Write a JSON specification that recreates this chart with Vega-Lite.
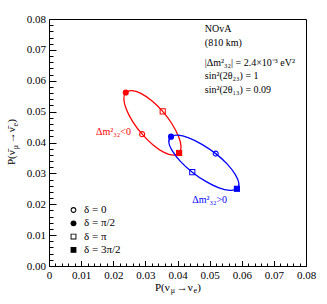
{
  "$schema": "https://vega.github.io/schema/vega-lite/v6.json",
  "width": 257,
  "height": 247,
  "autosize": "none",
  "padding": {"left": 49, "top": 19, "right": 21, "bottom": 38},
  "background": "white",
  "config": {
    "view": {"stroke": "black", "strokeWidth": 1},
    "font": "Liberation Serif",
    "text": {"font": "Liberation Serif", "fontSize": 11},
    "axis": {"labelFont": "Liberation Serif", "labelFontSize": 11, "labelColor": "black", "tickColor": "black", "grid": false, "domain": false, "labelFlush": false, "labelOverlap": false, "tickWidth": 1}
  },
  "datasets": {
    "ellipse": [
      {"series": "IH", "k": 0, "x": 0.0290, "y": 0.0427},
      {"series": "IH", "k": 1, "x": 0.0261, "y": 0.0467},
      {"series": "IH", "k": 2, "x": 0.0241, "y": 0.0507},
      {"series": "IH", "k": 3, "x": 0.0233, "y": 0.0540},
      {"series": "IH", "k": 4, "x": 0.0239, "y": 0.0562},
      {"series": "IH", "k": 5, "x": 0.0258, "y": 0.0568},
      {"series": "IH", "k": 6, "x": 0.0286, "y": 0.0559},
      {"series": "IH", "k": 7, "x": 0.0320, "y": 0.0535},
      {"series": "IH", "k": 8, "x": 0.0354, "y": 0.0501},
      {"series": "IH", "k": 9, "x": 0.0383, "y": 0.0460},
      {"series": "IH", "k": 10, "x": 0.0403, "y": 0.0420},
      {"series": "IH", "k": 11, "x": 0.0411, "y": 0.0387},
      {"series": "IH", "k": 12, "x": 0.0405, "y": 0.0366},
      {"series": "IH", "k": 13, "x": 0.0386, "y": 0.0359},
      {"series": "IH", "k": 14, "x": 0.0358, "y": 0.0368},
      {"series": "IH", "k": 15, "x": 0.0324, "y": 0.0392},
      {"series": "NH", "k": 0, "x": 0.0519, "y": 0.0364},
      {"series": "NH", "k": 1, "x": 0.0476, "y": 0.0394},
      {"series": "NH", "k": 2, "x": 0.0435, "y": 0.0415},
      {"series": "NH", "k": 3, "x": 0.0401, "y": 0.0424},
      {"series": "NH", "k": 4, "x": 0.0380, "y": 0.0419},
      {"series": "NH", "k": 5, "x": 0.0373, "y": 0.0401},
      {"series": "NH", "k": 6, "x": 0.0384, "y": 0.0373},
      {"series": "NH", "k": 7, "x": 0.0409, "y": 0.0339},
      {"series": "NH", "k": 8, "x": 0.0446, "y": 0.0304},
      {"series": "NH", "k": 9, "x": 0.0488, "y": 0.0274},
      {"series": "NH", "k": 10, "x": 0.0529, "y": 0.0253},
      {"series": "NH", "k": 11, "x": 0.0563, "y": 0.0245},
      {"series": "NH", "k": 12, "x": 0.0585, "y": 0.0250},
      {"series": "NH", "k": 13, "x": 0.0591, "y": 0.0268},
      {"series": "NH", "k": 14, "x": 0.0580, "y": 0.0296},
      {"series": "NH", "k": 15, "x": 0.0555, "y": 0.0330}
    ],
    "points": [
      {"series": "IH", "delta": "δ = 0", "x": 0.0290, "y": 0.0427},
      {"series": "IH", "delta": "δ = π/2", "x": 0.0239, "y": 0.0562},
      {"series": "IH", "delta": "δ = π", "x": 0.0354, "y": 0.0501},
      {"series": "IH", "delta": "δ = 3π/2", "x": 0.0405, "y": 0.0366},
      {"series": "NH", "delta": "δ = 0", "x": 0.0519, "y": 0.0364},
      {"series": "NH", "delta": "δ = π/2", "x": 0.0380, "y": 0.0419},
      {"series": "NH", "delta": "δ = π", "x": 0.0446, "y": 0.0304},
      {"series": "NH", "delta": "δ = 3π/2", "x": 0.0585, "y": 0.0250}
    ],
    "notes": [
      {"group": "info", "x": 0.0485, "y": 0.0767, "text": "NOvA"},
      {"group": "info", "x": 0.0485, "y": 0.0723, "text": "(810 km)"},
      {"group": "info", "x": 0.0485, "y": 0.0658, "text": "|Δm²₃₂| = 2.4×10⁻³ eV²"},
      {"group": "info", "x": 0.0485, "y": 0.0614, "text": "sin²(2θ₂₃) = 1"},
      {"group": "info", "x": 0.0485, "y": 0.0570, "text": "sin²(2θ₁₃) = 0.09"},
      {"group": "NH", "x": 0.0446, "y": 0.0214, "text": "Δm²₃₂>0"}
    ],
    "notesRight": [
      {"group": "IH", "x": 0.0255, "y": 0.0433, "text": "Δm²₃₂<0"}
    ]
  },
  "resolve": {"axis": {"x": "independent", "y": "independent"}},
  "layer": [
    {
      "data": {"name": "ellipse"},
      "mark": {"type": "line", "interpolate": "cardinal-closed", "strokeWidth": 1.3},
      "encoding": {
        "x": {"field": "x", "type": "quantitative", "scale": {"domain": [0, 0.08], "nice": false, "zero": false},
              "axis": {"orient": "bottom", "title": null, "values": [0, 0.01, 0.02, 0.03, 0.04, 0.05, 0.06, 0.07, 0.08], "labelExpr": "datum.value == 0 ? '0' : format(datum.value, '.2f')", "tickSize": -5.5, "labelPadding": 9}},
        "y": {"field": "y", "type": "quantitative", "scale": {"domain": [0, 0.08], "nice": false, "zero": false},
              "axis": {"orient": "left", "title": null, "values": [0, 0.01, 0.02, 0.03, 0.04, 0.05, 0.06, 0.07, 0.08], "format": ".2f", "tickSize": -7, "labelPadding": 10.5}},
        "color": {"field": "series", "type": "nominal", "scale": {"domain": ["IH", "NH", "info"], "range": ["#ff0000", "#0000ff", "#000000"]}, "legend": null},
        "order": {"field": "k", "type": "quantitative"}
      }
    },
    {
      "data": {"name": "points"},
      "mark": {"type": "point", "filled": true, "size": 38, "opacity": 1},
      "encoding": {
        "x": {"field": "x", "type": "quantitative", "scale": {"domain": [0, 0.08], "nice": false, "zero": false},
              "axis": {"orient": "bottom", "title": null, "labels": false, "tickSize": -3, "values": [0.002,0.004,0.006,0.008,0.012,0.014,0.016,0.018,0.022,0.024,0.026,0.028,0.032,0.034,0.036,0.038,0.042,0.044,0.046,0.048,0.052,0.054,0.056,0.058,0.062,0.064,0.066,0.068,0.072,0.074,0.076,0.078]}},
        "y": {"field": "y", "type": "quantitative", "scale": {"domain": [0, 0.08], "nice": false, "zero": false},
              "axis": {"orient": "left", "title": null, "labels": false, "tickSize": -4, "values": [0.002,0.004,0.006,0.008,0.012,0.014,0.016,0.018,0.022,0.024,0.026,0.028,0.032,0.034,0.036,0.038,0.042,0.044,0.046,0.048,0.052,0.054,0.056,0.058,0.062,0.064,0.066,0.068,0.072,0.074,0.076,0.078]}},
        "color": {"field": "series", "type": "nominal", "scale": {"domain": ["IH", "NH", "info"], "range": ["#ff0000", "#0000ff", "#000000"]}, "legend": null},
        "shape": {"field": "delta", "type": "nominal",
                  "scale": {"domain": ["δ = 0", "δ = π/2", "δ = π", "δ = 3π/2"],
                            "range": ["M1,0A1,1,0,1,1,-1,0A1,1,0,1,1,1,0Z M0.64,0A0.64,0.64,0,1,0,-0.64,0A0.64,0.64,0,1,0,0.64,0Z", "circle", "M-1,-1H1V1H-1Z M-0.68,-0.68V0.68H0.68V-0.68Z", "square"]},
                  "legend": {"orient": "none", "legendX": 19, "legendY": 185.5, "title": null, "padding": 0, "symbolSize": 34, "symbolFillColor": "black", "symbolStrokeWidth": 0, "symbolStrokeColor": "transparent", "labelFont": "Liberation Serif", "labelFontSize": 11, "labelColor": "black", "labelOffset": 5, "rowPadding": 1.3}}
      }
    },
    {
      "data": {"name": "notes"},
      "mark": {"type": "text", "align": "left", "baseline": "middle", "fontSize": 10},
      "encoding": {
        "x": {"field": "x", "type": "quantitative", "scale": {"domain": [0, 0.08], "nice": false, "zero": false}, "axis": null},
        "y": {"field": "y", "type": "quantitative", "scale": {"domain": [0, 0.08], "nice": false, "zero": false}, "axis": null},
        "color": {"field": "group", "type": "nominal", "scale": {"domain": ["IH", "NH", "info"], "range": ["#ff0000", "#0000ff", "#000000"]}, "legend": null},
        "text": {"field": "text", "type": "nominal"}
      }
    },
    {
      "data": {"name": "notesRight"},
      "mark": {"type": "text", "align": "right", "baseline": "middle", "fontSize": 10},
      "encoding": {
        "x": {"field": "x", "type": "quantitative", "scale": {"domain": [0, 0.08], "nice": false, "zero": false}, "axis": null},
        "y": {"field": "y", "type": "quantitative", "scale": {"domain": [0, 0.08], "nice": false, "zero": false}, "axis": null},
        "color": {"field": "group", "type": "nominal", "scale": {"domain": ["IH", "NH", "info"], "range": ["#ff0000", "#0000ff", "#000000"]}, "legend": null},
        "text": {"field": "text", "type": "nominal"}
      }
    },
    {
      "data": {"values": [{}]},
      "mark": {"type": "text", "text": "P(ν", "align": "left", "baseline": "alphabetic", "fontSize": 11, "color": "black", "dx": -22.5, "dy": 24.5},
      "encoding": {"x": {"datum": 0.04, "type": "quantitative", "scale": {"domain": [0, 0.08], "nice": false, "zero": false}, "axis": null}, "y": {"datum": 0, "type": "quantitative", "scale": {"domain": [0, 0.08], "nice": false, "zero": false}, "axis": null}}
    },
    {
      "data": {"values": [{}]},
      "mark": {"type": "text", "text": "μ", "align": "left", "baseline": "alphabetic", "fontSize": 8, "color": "black", "dx": -6.8, "dy": 27},
      "encoding": {"x": {"datum": 0.04, "type": "quantitative", "scale": {"domain": [0, 0.08], "nice": false, "zero": false}, "axis": null}, "y": {"datum": 0, "type": "quantitative", "scale": {"domain": [0, 0.08], "nice": false, "zero": false}, "axis": null}}
    },
    {
      "data": {"values": [{}]},
      "mark": {"type": "text", "text": "→ν", "align": "right", "baseline": "alphabetic", "fontSize": 11, "color": "black", "dx": 15.3, "dy": 24.5},
      "encoding": {"x": {"datum": 0.04, "type": "quantitative", "scale": {"domain": [0, 0.08], "nice": false, "zero": false}, "axis": null}, "y": {"datum": 0, "type": "quantitative", "scale": {"domain": [0, 0.08], "nice": false, "zero": false}, "axis": null}}
    },
    {
      "data": {"values": [{}]},
      "mark": {"type": "text", "text": "e", "align": "right", "baseline": "alphabetic", "fontSize": 8, "color": "black", "dx": 19.6, "dy": 27},
      "encoding": {"x": {"datum": 0.04, "type": "quantitative", "scale": {"domain": [0, 0.08], "nice": false, "zero": false}, "axis": null}, "y": {"datum": 0, "type": "quantitative", "scale": {"domain": [0, 0.08], "nice": false, "zero": false}, "axis": null}}
    },
    {
      "data": {"values": [{}]},
      "mark": {"type": "text", "text": ")", "align": "right", "baseline": "alphabetic", "fontSize": 11, "color": "black", "dx": 23.4, "dy": 24.5},
      "encoding": {"x": {"datum": 0.04, "type": "quantitative", "scale": {"domain": [0, 0.08], "nice": false, "zero": false}, "axis": null}, "y": {"datum": 0, "type": "quantitative", "scale": {"domain": [0, 0.08], "nice": false, "zero": false}, "axis": null}}
    },
    {
      "data": {"values": [{}]},
      "mark": {"type": "text", "text": "P(ν̄", "angle": 270, "align": "left", "baseline": "alphabetic", "fontSize": 11, "color": "black", "dx": -22.5, "dy": -34},
      "encoding": {"x": {"datum": 0, "type": "quantitative", "scale": {"domain": [0, 0.08], "nice": false, "zero": false}, "axis": null}, "y": {"datum": 0.04, "type": "quantitative", "scale": {"domain": [0, 0.08], "nice": false, "zero": false}, "axis": null}}
    },
    {
      "data": {"values": [{}]},
      "mark": {"type": "text", "text": "μ", "angle": 270, "align": "left", "baseline": "alphabetic", "fontSize": 8, "color": "black", "dx": -6.8, "dy": -31.5},
      "encoding": {"x": {"datum": 0, "type": "quantitative", "scale": {"domain": [0, 0.08], "nice": false, "zero": false}, "axis": null}, "y": {"datum": 0.04, "type": "quantitative", "scale": {"domain": [0, 0.08], "nice": false, "zero": false}, "axis": null}}
    },
    {
      "data": {"values": [{}]},
      "mark": {"type": "text", "text": "→ν̄", "angle": 270, "align": "right", "baseline": "alphabetic", "fontSize": 11, "color": "black", "dx": 15.3, "dy": -34},
      "encoding": {"x": {"datum": 0, "type": "quantitative", "scale": {"domain": [0, 0.08], "nice": false, "zero": false}, "axis": null}, "y": {"datum": 0.04, "type": "quantitative", "scale": {"domain": [0, 0.08], "nice": false, "zero": false}, "axis": null}}
    },
    {
      "data": {"values": [{}]},
      "mark": {"type": "text", "text": "e", "angle": 270, "align": "right", "baseline": "alphabetic", "fontSize": 8, "color": "black", "dx": 19.6, "dy": -31.5},
      "encoding": {"x": {"datum": 0, "type": "quantitative", "scale": {"domain": [0, 0.08], "nice": false, "zero": false}, "axis": null}, "y": {"datum": 0.04, "type": "quantitative", "scale": {"domain": [0, 0.08], "nice": false, "zero": false}, "axis": null}}
    },
    {
      "data": {"values": [{}]},
      "mark": {"type": "text", "text": ")", "angle": 270, "align": "right", "baseline": "alphabetic", "fontSize": 11, "color": "black", "dx": 23.4, "dy": -34},
      "encoding": {"x": {"datum": 0, "type": "quantitative", "scale": {"domain": [0, 0.08], "nice": false, "zero": false}, "axis": null}, "y": {"datum": 0.04, "type": "quantitative", "scale": {"domain": [0, 0.08], "nice": false, "zero": false}, "axis": null}}
    }
  ]
}
